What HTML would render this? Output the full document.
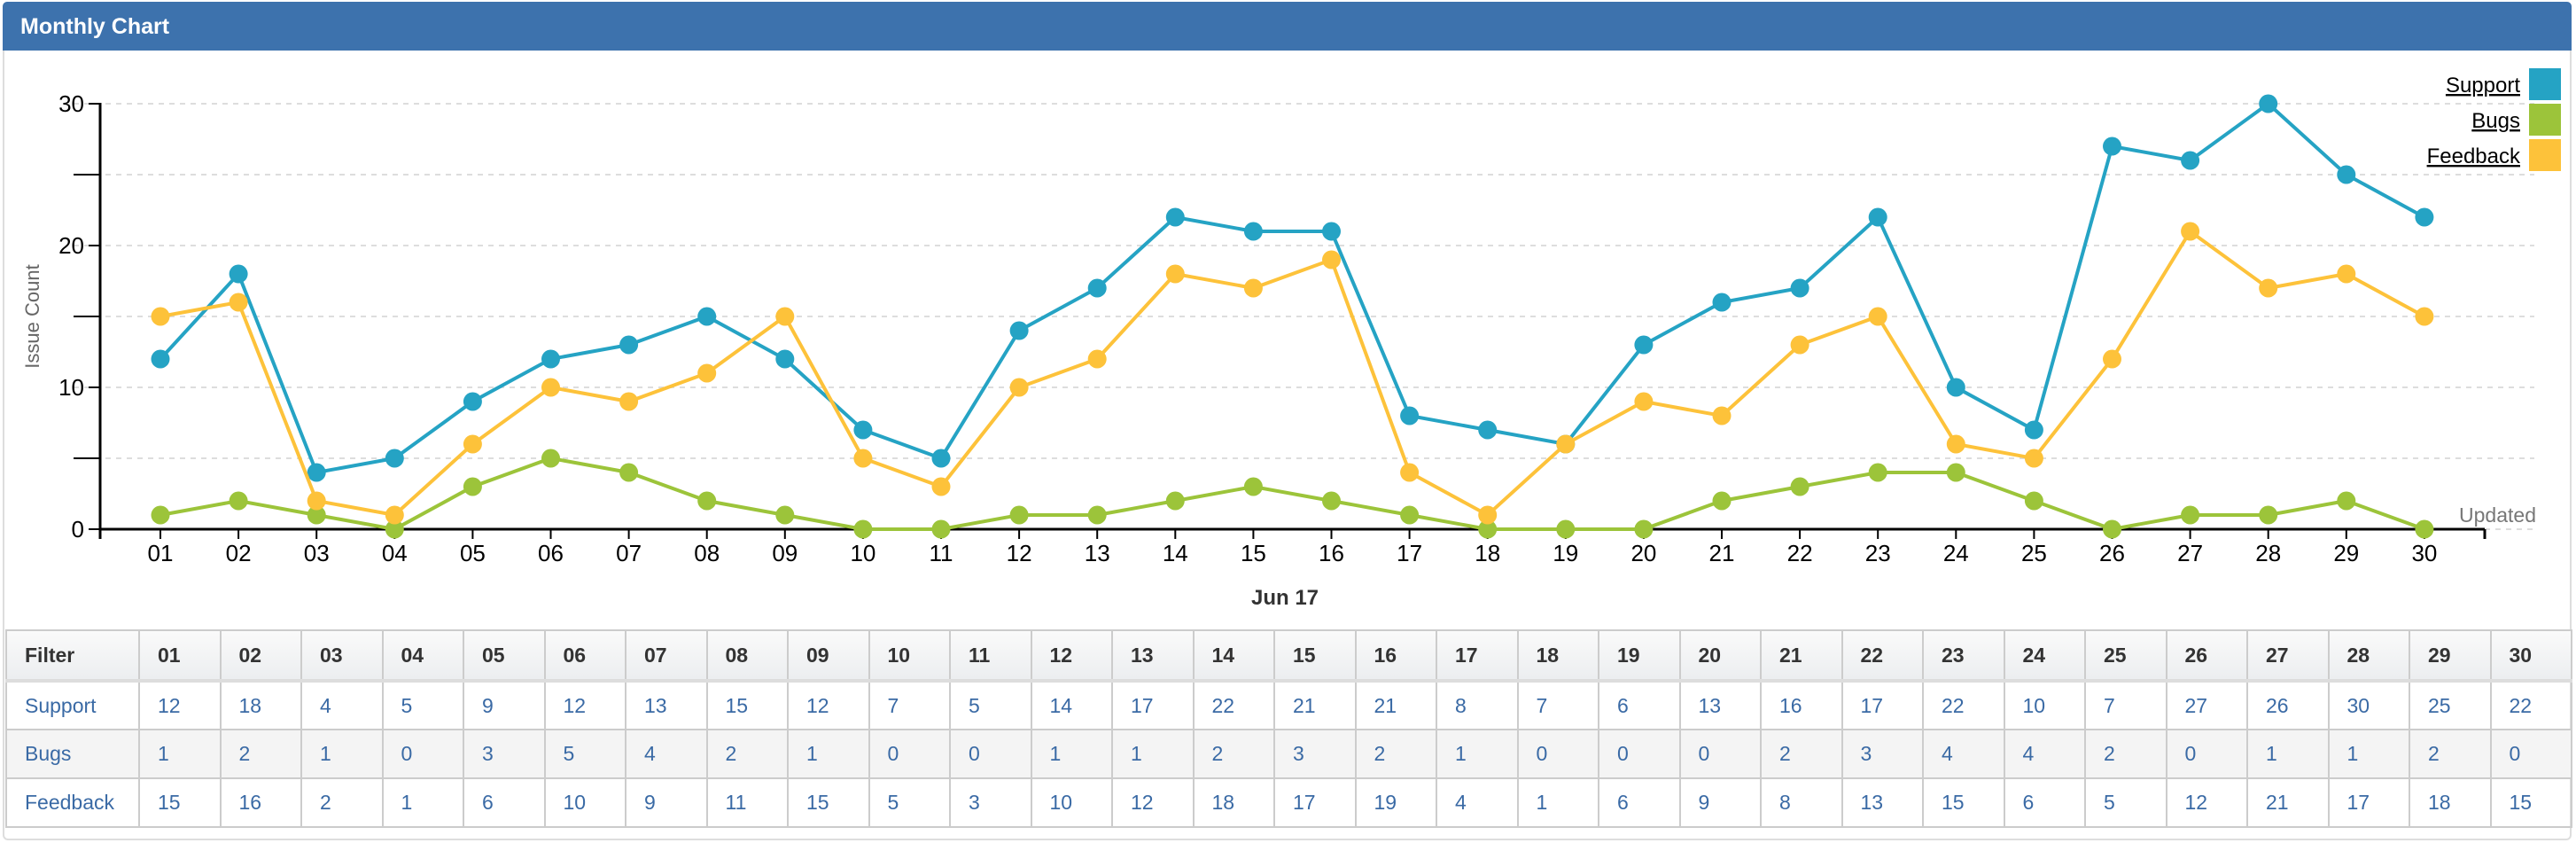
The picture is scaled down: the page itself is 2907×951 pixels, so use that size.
<!DOCTYPE html>
<html><head><meta charset="utf-8"><style>
body{margin:0;width:2907px;height:951px;background:#fff;font-family:"Liberation Sans",sans-serif;overflow:hidden;position:relative}
#panel{position:absolute;left:3px;top:2px;width:2899px;height:946px;border:2px solid #ddd;border-radius:6px;box-sizing:border-box}
#hdr{position:absolute;left:3px;top:2px;width:2899px;height:55px;background:#3d72ad;border-radius:5px 5px 0 0}
#hdr span{position:absolute;left:20px;top:14px;color:#fff;font-weight:bold;font-size:25px}
table{position:absolute;left:6px;top:710px;border-collapse:collapse;font-size:23px}
th,td{border:2px solid #ccc;height:55px;padding:0 0 0 20px;text-align:left;box-sizing:border-box}
th{background:linear-gradient(#fafafa,#eceef0);color:#333;border-bottom:4px solid #ddd;height:57px}
td{color:#3a6aa5}
tr.alt td{background:#f4f4f4}
</style></head><body>
<div id="panel"></div>
<div id="hdr"><span>Monthly Chart</span></div>
<svg id="chart" width="2907" height="700" style="position:absolute;left:0;top:0"></svg>
<table id="tbl"></table>
<script>
const days=["01","02","03","04","05","06","07","08","09","10","11","12","13","14","15","16","17","18","19","20","21","22","23","24","25","26","27","28","29","30"];
const support=[12,18,4,5,9,12,13,15,12,7,5,14,17,22,21,21,8,7,6,13,16,17,22,10,7,27,26,30,25,22];
const bugs=[1,2,1,0,3,5,4,2,1,0,0,1,1,2,3,2,1,0,0,0,2,3,4,4,2,0,1,1,2,0];
const feedback=[15,16,2,1,6,10,9,11,15,5,3,10,12,18,17,19,4,1,6,9,8,13,15,6,5,12,21,17,18,15];
const yTicks=[0,5,10,15,20,25,30];
const seriesNames=["Support","Bugs","Feedback"];
const colors=["#25a3c4","#9cc43a","#fdc23a"];
const NS="http://www.w3.org/2000/svg";
const svg=document.getElementById('chart');
const X=i=>181+i*88.1;
const Y=v=>597-v*16;
function mk(t,a,txt){const e=document.createElementNS(NS,t);for(const k in a)e.setAttribute(k,a[k]);if(txt!==undefined)e.textContent=txt;svg.appendChild(e);return e;}
yTicks.forEach(v=>{
  if(v>0){const g=mk('line',{x1:83,x2:2860,y1:Y(v),y2:Y(v),stroke:'#ddd','stroke-width':2,'stroke-dasharray':'6,6'});
  }
  const t=mk('line',{x1:v%10?83:100,x2:113,y1:Y(v),y2:Y(v),stroke:'#000','stroke-width':2});
  
  if(v%10===0){const l=mk('text',{x:95,y:Y(v)+9,'text-anchor':'end','font-size':26},v);
  }
});
const g0=mk('line',{x1:2804,x2:2860,y1:597,y2:597,stroke:'#ddd','stroke-width':2,'stroke-dasharray':'6,6'});

const ya=mk('line',{x1:113,x2:113,y1:116,y2:608,stroke:'#000','stroke-width':3});

const xa=mk('line',{x1:113,x2:2804,y1:597,y2:597,stroke:'#000','stroke-width':3});

const et=mk('line',{x1:2804,x2:2804,y1:597,y2:608,stroke:'#000','stroke-width':3});

days.forEach((d,i)=>{
  const t=mk('line',{x1:X(i),x2:X(i),y1:597,y2:608,stroke:'#000','stroke-width':2});
  
  const l=mk('text',{x:X(i),y:633,'text-anchor':'middle','font-size':26},d);
  
});
const yt=mk('text',{x:0,y:0,transform:'translate(44,357) rotate(-90)','text-anchor':'middle','font-size':22,fill:'#666'},'Issue Count');

const xt=mk('text',{x:1450,y:682,'text-anchor':'middle','font-size':24,'font-weight':'bold',fill:'#333'},'Jun 17');

const up=mk('text',{x:2862,y:589,'text-anchor':'end','font-size':23,fill:'#777'},'Updated');

[support,bugs,feedback].forEach((s,si)=>{
  const p=mk('polyline',{points:s.map((v,i)=>X(i)+','+Y(v)).join(' '),fill:'none',stroke:colors[si],'stroke-width':4});
  
  s.forEach((v,i)=>{const c=mk('circle',{cx:X(i),cy:Y(v),r:10.5,fill:colors[si]});
  });
});
seriesNames.forEach((n,i)=>{
  const r=mk('rect',{x:2854,y:77+i*40,width:36,height:36,fill:colors[i]});
  
  const t=mk('text',{x:2844,y:104+i*40,'text-anchor':'end','font-size':24,'text-decoration':'underline'},n);
  
});
const tbl=document.getElementById('tbl');
let h='<tr><th style="width:150px">Filter</th>'+days.map(d=>'<th style="width:91.5px">'+d+'</th>').join('')+'</tr>';
[support,bugs,feedback].forEach((s,si)=>{
  h+='<tr'+(si===1?' class="alt"':'')+'><td>'+seriesNames[si]+'</td>'+s.map(v=>'<td>'+v+'</td>').join('')+'</tr>';
});
tbl.innerHTML=h;
</script>
</body></html>
